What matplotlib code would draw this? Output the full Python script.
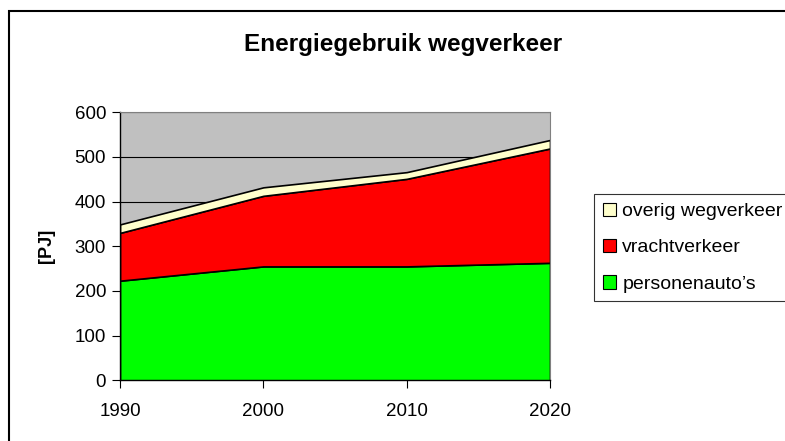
import matplotlib

matplotlib.use("Agg")
import matplotlib.pyplot as plt
from matplotlib.patches import Patch, Rectangle

plt.rcParams["font.family"] = ["Liberation Sans", "DejaVu Sans"]

years = [1990, 2000, 2010, 2020]
personenautos = [223, 255, 255, 263]
vrachtverkeer = [107, 158, 196, 256]
overig = [19, 19, 15, 19]

labels = ["personenauto\u2019s", "vrachtverkeer", "overig wegverkeer"]
colors = ["#00FF00", "#FF0000", "#FFFFCC"]
y_ticks = [0, 100, 200, 300, 400, 500, 600]


def main() -> None:
    fig = plt.figure(figsize=(7.85, 4.41), dpi=100)
    ax = fig.add_axes([120 / 785, 1 - 380.3 / 441, 430 / 785, 268 / 441])

    ax.set_facecolor("#C0C0C0")
    ax.stackplot(years, personenautos, vrachtverkeer, overig,
                 colors=colors, edgecolor="black", linewidth=1.2, zorder=2)

    ax.set_xlim(years[0], years[-1])
    ax.set_ylim(0, 600)
    ax.set_xticks(years)
    ax.set_yticks(y_ticks)
    ax.grid(axis="y", color="black", linewidth=0.8, zorder=1)
    ax.set_axisbelow(True)
    ax.tick_params(axis="both", direction="out", length=6, width=0.8,
                   labelsize=13.5, color="black", pad=4)
    ax.tick_params(axis="x", pad=10)

    for side in ["top", "right"]:
        ax.spines[side].set_color("#808080")
    for side in ["left", "bottom"]:
        ax.spines[side].set_color("black")
        ax.spines[side].set_linewidth(1.0)

    ax.set_ylabel("[PJ]", fontsize=13, fontweight="bold", labelpad=14)
    fig.text(403 / 785, 1 - 45 / 441, "Energiegebruik wegverkeer",
             ha="center", va="center", fontsize=17.5, fontweight="bold")

    handles = [Patch(facecolor=c, edgecolor="black", linewidth=0.8) for c in colors]
    leg = fig.legend(handles[::-1], labels[::-1], loc="upper left",
                     bbox_to_anchor=(594 / 785, 1 - 194 / 441), fontsize=14,
                     frameon=True, fancybox=False, borderaxespad=0,
                     handlelength=0.7, handleheight=0.7, handletextpad=0.3,
                     labelspacing=0.95, borderpad=0.45)
    leg.get_frame().set_edgecolor("black")
    leg.get_frame().set_linewidth(0.8)

    fig.patches.append(Rectangle((9 / 785, -0.1), 1.0, 1.1 - 11 / 441,
                                 transform=fig.transFigure, fill=False,
                                 edgecolor="black", linewidth=1.5))

    fig.savefig("out.png", dpi=100)
    plt.close(fig)


if __name__ == "__main__":
    main()
